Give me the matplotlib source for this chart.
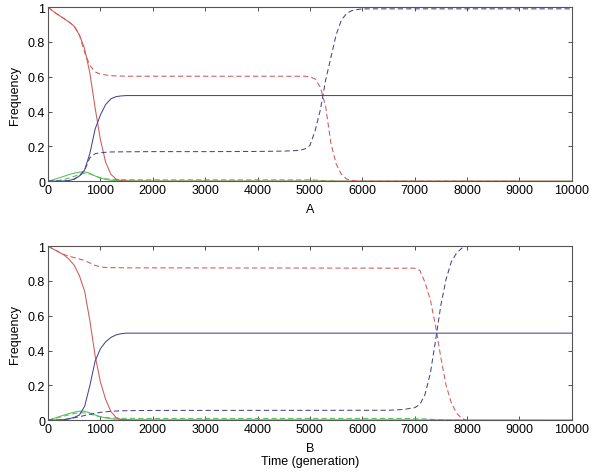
import matplotlib
matplotlib.use("Agg")
import matplotlib.pyplot as plt

plt.rcParams['font.family'] = ['Liberation Sans', 'DejaVu Sans']
plt.rcParams['font.size'] = 9

# ---------------- panel A ----------------
t_red_A = [0, 100, 200, 300, 400, 500, 600, 700, 800, 900, 1000, 1100, 1200, 1300, 1400, 1600, 10000]
red_solid_A = [1.0, 0.975, 0.955, 0.935, 0.915, 0.89, 0.84, 0.76, 0.62, 0.42, 0.24, 0.11, 0.04, 0.012, 0.003, 0.0, 0.0]

t_red_dash_A = [0, 100, 200, 300, 400, 500, 600, 700, 800, 900, 1000, 1200, 1500, 4900, 5000, 5100,
                5200, 5300, 5400, 5500, 5600, 5700, 5800, 5900, 9000]
red_dash_A = [1.0, 0.975, 0.955, 0.935, 0.915, 0.89, 0.84, 0.74, 0.665, 0.628, 0.615, 0.606, 0.603, 0.603, 0.6,
              0.587, 0.54, 0.43, 0.22, 0.10, 0.04, 0.013, 0.004, 0.0, 0.0]

t_blue_A = [0, 300, 400, 500, 600, 700, 800, 900, 1000, 1100, 1200, 1300, 1400, 1500, 10000]
blue_solid_A = [0, 0.001, 0.004, 0.012, 0.03, 0.065, 0.16, 0.30, 0.38, 0.44, 0.473, 0.486, 0.49, 0.492, 0.492]

t_blue_dash_A = [0, 300, 400, 500, 600, 700, 800, 900, 1000, 1100, 1200, 1500, 2000, 3000, 4000, 4500, 4800,
                 4900, 5000, 5100, 5200, 5300, 5400, 5500, 5600, 5700, 5800, 5900, 6000, 10000]
blue_dash_A = [0, 0.001, 0.004, 0.012, 0.03, 0.065, 0.135, 0.158, 0.164, 0.166, 0.168, 0.169, 0.17, 0.17, 0.171,
               0.173, 0.177, 0.185, 0.205, 0.29, 0.41, 0.58, 0.71, 0.84, 0.925, 0.963, 0.98, 0.986, 0.99, 0.99]

t_green_A = [0, 100, 200, 300, 400, 500, 600, 700, 800, 900, 1000, 1100, 1200, 1300, 1400, 1600, 2000, 10000]
green_solid_A = [0, 0.008, 0.018, 0.028, 0.038, 0.046, 0.052, 0.054, 0.045, 0.03, 0.018, 0.01, 0.006, 0.004,
                 0.003, 0.002, 0.001, 0.0]

t_green_dash_A = [0, 200, 300, 400, 500, 600, 700, 800, 900, 1000, 1100, 1200, 1400, 2000, 5000, 5100, 5300, 5500]
green_dash_A = [0, 0.004, 0.01, 0.018, 0.028, 0.038, 0.046, 0.042, 0.03, 0.02, 0.014, 0.011, 0.009, 0.008,
                0.008, 0.007, 0.002, 0.0]

# ---------------- panel B ----------------
t_red_B = [0, 100, 200, 300, 400, 500, 600, 700, 800, 900, 1000, 1100, 1200, 1300, 1400, 1600, 10000]
red_solid_B = [1.0, 0.983, 0.967, 0.95, 0.925, 0.89, 0.83, 0.74, 0.57, 0.37, 0.22, 0.12, 0.05, 0.015, 0.004, 0.0, 0.0]

t_red_dash_B = [0, 100, 200, 300, 400, 500, 600, 700, 800, 900, 1000, 1100, 1200, 1500, 2000, 7000, 7100,
                7200, 7300, 7400, 7500, 7600, 7700, 7800, 7900, 8000]
red_dash_B = [1.0, 0.983, 0.967, 0.952, 0.942, 0.934, 0.926, 0.917, 0.903, 0.889, 0.881, 0.877, 0.876, 0.875,
              0.875, 0.873, 0.86, 0.79, 0.69, 0.54, 0.36, 0.2, 0.1, 0.04, 0.01, 0.0]

t_blue_B = [0, 200, 300, 400, 500, 600, 700, 800, 900, 1000, 1100, 1200, 1300, 1400, 1500, 10000]
blue_solid_B = [0, 0.001, 0.003, 0.008, 0.016, 0.03, 0.08, 0.2, 0.34, 0.41, 0.45, 0.475, 0.49, 0.497, 0.5, 0.5]

t_blue_dash_B = [0, 200, 300, 400, 500, 600, 700, 800, 900, 1000, 1200, 1400, 1600, 2000, 6500, 6800, 7000,
                 7100, 7200, 7300, 7400, 7500, 7600, 7700, 7800, 7900, 8000]
blue_dash_B = [0, 0.001, 0.003, 0.008, 0.014, 0.02, 0.027, 0.034, 0.04, 0.045, 0.051, 0.054, 0.055, 0.056,
               0.057, 0.062, 0.072, 0.09, 0.15, 0.27, 0.46, 0.66, 0.81, 0.91, 0.96, 0.988, 1.0]

t_green_B = [0, 100, 200, 300, 400, 500, 600, 700, 800, 900, 1000, 1100, 1200, 1400, 1600, 2000, 10000]
green_solid_B = [0, 0.009, 0.019, 0.029, 0.038, 0.046, 0.052, 0.052, 0.042, 0.03, 0.02, 0.013, 0.008, 0.004,
                 0.002, 0.001, 0.0]

t_green_dash_B = [0, 100, 200, 300, 400, 500, 600, 700, 800, 900, 1000, 1200, 1400, 2000, 6800, 7000, 7200,
                  7400, 7600, 8000]
green_dash_B = [0, 0.007, 0.015, 0.023, 0.031, 0.038, 0.043, 0.042, 0.035, 0.026, 0.019, 0.013, 0.011, 0.01,
                0.01, 0.009, 0.007, 0.004, 0.001, 0.0]

xticks = [0, 1000, 2000, 3000, 4000, 5000, 6000, 7000, 8000, 9000, 10000]
yticks = [0, 0.2, 0.4, 0.6, 0.8, 1]
ytick_labels = ['0', '0.2', '0.4', '0.6', '0.8', '1']

red = '#d05858'
blue = '#45458f'
green = '#55c055'
lw = 0.75
dash = (0, (5, 3))

fig = plt.figure(figsize=(6, 4.77), dpi=100)
axA = fig.add_axes([0.08, 0.618, 0.873, 0.365])
axB = fig.add_axes([0.08, 0.117, 0.873, 0.365])


def style(ax):
    ax.set_xlim(0, 10000)
    ax.set_ylim(0, 1)
    ax.set_xticks(xticks)
    ax.set_xticklabels([str(x) for x in xticks])
    ax.set_yticks(yticks)
    ax.set_yticklabels(ytick_labels)
    ax.tick_params(direction='in', length=3, width=0.6, top=True, right=True,
                   colors='#333333', labelcolor='black', pad=2)
    for s in ax.spines.values():
        s.set_color('#555555')
        s.set_linewidth(0.8)
    ax.set_ylabel('Frequency', labelpad=5)


#A
axA.plot(t_green_A, green_solid_A, color=green, lw=lw)
axA.plot(t_green_dash_A, green_dash_A, color=green, lw=lw, ls=dash)
axA.plot(t_red_A, red_solid_A, color=red, lw=lw)
axA.plot(t_red_dash_A, red_dash_A, color=red, lw=lw, ls=dash)
axA.plot(t_blue_A, blue_solid_A, color=blue, lw=lw)
axA.plot(t_blue_dash_A, blue_dash_A, color=blue, lw=lw, ls=dash)
style(axA)
axA.set_xlabel('A', labelpad=5)

#B
axB.plot(t_green_B, green_solid_B, color=green, lw=lw)
axB.plot(t_green_dash_B, green_dash_B, color=green, lw=lw, ls=dash)
axB.plot(t_red_B, red_solid_B, color=red, lw=lw)
axB.plot(t_red_dash_B, red_dash_B, color=red, lw=lw, ls=dash)
axB.plot(t_blue_B, blue_solid_B, color=blue, lw=lw)
axB.plot(t_blue_dash_B, blue_dash_B, color=blue, lw=lw, ls=dash)
style(axB)
axB.set_xlabel('B\nTime (generation)', labelpad=5, linespacing=1.15)

fig.savefig('out.png', dpi=100)
